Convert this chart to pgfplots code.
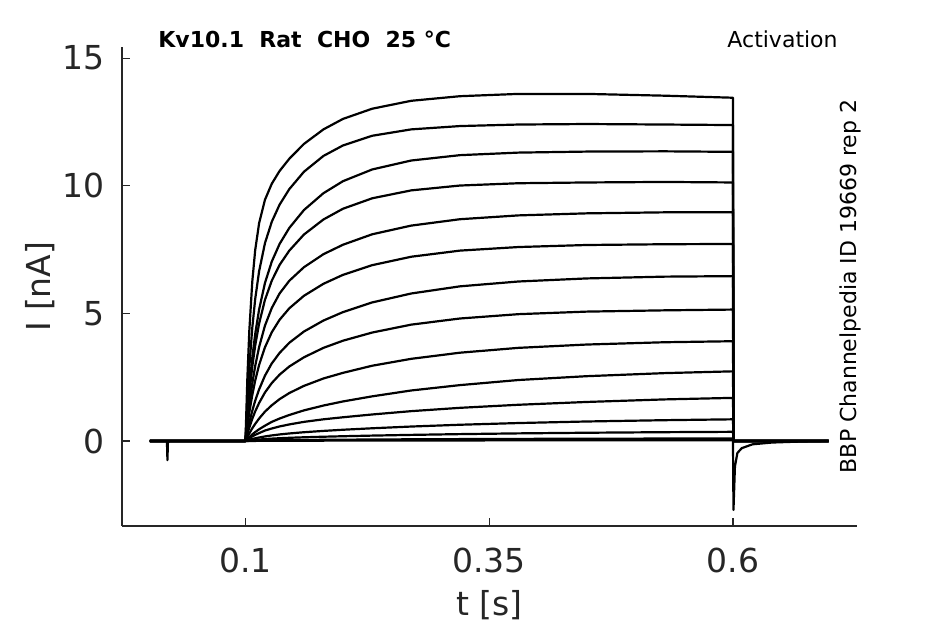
\documentclass[border=0pt]{standalone}
\usepackage{fontspec}
\setmainfont{DejaVu Sans}
\usepackage{pgfplots}
\usepackage{pgfplotstable}
\pgfplotsset{compat=1.18}
\definecolor{txt}{HTML}{262626}
\definecolor{axc}{HTML}{262626}

\pgfplotstableread{
t a1 a2 a3 a4 a5 a6 a7 a8 a9 a10 a11 a12 a13 a14 a15
0.002 0 0 0 0 0 0 0 0 0 0 0 0 0 0 0
0.100 0 0 0 0 0 0 0 0 0 0 0 0 0 0 0
0.102 2.50 1.62 1.13 1.01 0.75 0.60 0.38 0.28 0.16 0.08 0.06 0.024 0.010 0.003 0.001
0.104 4.34 2.92 2.09 1.87 1.41 1.13 0.73 0.53 0.30 0.15 0.11 0.047 0.020 0.005 0.002
0.107 6.24 4.43 3.26 2.91 2.25 1.80 1.18 0.87 0.50 0.26 0.18 0.077 0.033 0.009 0.003
0.110 7.48 5.56 4.19 3.74 2.94 2.37 1.58 1.16 0.67 0.35 0.24 0.105 0.044 0.012 0.004
0.114 8.53 6.65 5.15 4.60 3.68 2.98 2.02 1.49 0.88 0.46 0.31 0.138 0.058 0.016 0.005
0.120 9.45 7.75 6.19 5.53 4.52 3.67 2.56 1.90 1.15 0.60 0.41 0.179 0.076 0.021 0.006
0.127 10.08 8.59 7.03 6.28 5.21 4.26 3.04 2.27 1.40 0.75 0.49 0.219 0.093 0.026 0.008
0.135 10.58 9.26 7.72 6.90 5.78 4.75 3.45 2.60 1.64 0.88 0.57 0.257 0.109 0.030 0.009
0.145 11.06 9.87 8.35 7.46 6.28 5.20 3.85 2.92 1.88 1.02 0.65 0.296 0.126 0.035 0.011
0.160 11.64 10.55 9.05 8.09 6.81 5.69 4.29 3.28 2.16 1.20 0.75 0.344 0.146 0.040 0.012
0.180 12.21 11.17 9.71 8.68 7.32 6.16 4.72 3.65 2.45 1.39 0.85 0.396 0.168 0.047 0.014
0.200 12.62 11.58 10.18 9.10 7.69 6.51 5.05 3.93 2.67 1.55 0.93 0.441 0.187 0.052 0.016
0.230 13.02 11.96 10.64 9.51 8.10 6.89 5.43 4.25 2.95 1.75 1.04 0.499 0.212 0.059 0.018
0.270 13.33 12.21 10.99 9.82 8.44 7.22 5.78 4.56 3.22 1.98 1.17 0.567 0.240 0.067 0.020
0.320 13.51 12.34 11.20 10.01 8.69 7.46 6.06 4.80 3.46 2.19 1.30 0.637 0.270 0.075 0.023
0.380 13.60 12.40 11.30 10.10 8.84 7.60 6.25 4.97 3.65 2.39 1.42 0.704 0.299 0.083 0.025
0.450 13.60 12.42 11.34 10.13 8.92 7.68 6.37 5.07 3.78 2.54 1.53 0.765 0.324 0.090 0.027
0.530 13.53 12.40 11.35 10.15 8.96 7.71 6.44 5.12 3.87 2.66 1.63 0.816 0.346 0.096 0.029
0.600 13.45 12.38 11.33 10.13 8.96 7.72 6.46 5.15 3.91 2.73 1.69 0.850 0.360 0.100 0.030
0.6005 0 0 0 0 0 0 0 0 0 0 0 0 0 0 0
0.698 0 0 0 0 0 0 0 0 0 0 0 0 0 0 0
}\datatab

\begin{document}
\begin{tikzpicture}
\path[use as bounding box] (0,0) rectangle (472.5pt,312pt);
\begin{axis}[
  at={(61pt,49pt)}, anchor=south west, scale only axis,
  width=367.5pt, height=239.65pt,
  xmin=-0.0266, xmax=0.7272, ymin=-3.33, ymax=15.45,
  axis x line*=bottom, axis y line*=left,
  x axis line style={-}, y axis line style={-},
  axis line style={draw=axc, line width=0.6pt},
  tick align=inside, major tick length=3.75pt,
  tick style={draw=axc, line width=0.6pt},
  xtick={0.1,0.35,0.6}, xticklabels={0.1,0.35,0.6},
  ytick={0,5,10,15}, yticklabels={0,5,10,15},
  minor tick num=0,
  xticklabel style={font=\fontsize{16.5}{19}\selectfont, text=txt, inner sep=0pt, anchor=north, yshift=-11pt},
  yticklabel style={font=\fontsize{16.5}{19}\selectfont, text=txt, inner sep=0pt, anchor=east, xshift=-8.5pt},
  xlabel={t [s]}, ylabel={I [nA]},
  xlabel style={font=\fontsize{16.5}{19}\selectfont, text=txt, inner sep=0pt, at={(axis description cs:0.5,-0.1648)}, anchor=center},
  ylabel style={font=\fontsize{16.5}{19}\selectfont, text=txt, inner sep=0pt, at={(axis description cs:-0.1116,0.5)}, anchor=center},
  trace/.style={black, solid, no markers, line width=1.1pt, line join=round},
]
\pgfplotsinvokeforeach{a15,a14,a13,a12,a11,a10,a9,a8,a7,a6,a5,a4,a3,a2,a1}{
  \addplot[trace] table[x=t, y=#1] {\datatab};
}
% capacitive artefact of the prepulse
\addplot[trace] coordinates {(0.0195,0) (0.0200,-0.75) (0.0205,-0.05) (0.0220,0)};
% tail current spike
\addplot[trace] coordinates {(0.6000,0) (0.6005,-2.70) (0.6020,-1.00) (0.6045,-0.47) (0.6090,-0.28) (0.6200,-0.13) (0.6400,-0.06) (0.6700,-0.02) (0.6980,0)};
\end{axis}
\node[anchor=base west, inner sep=0pt, font=\bfseries\fontsize{11}{13}\selectfont] at (79pt,288.35pt) {Kv10.1\ \ Rat\ \ CHO\ \ 25 °C};
\node[anchor=base east, inner sep=0pt, font=\fontsize{11}{13}\selectfont] at (419pt,288.35pt) {Activation};
\node[anchor=base, rotate=90, inner sep=0pt, font=\fontsize{11}{13}\selectfont] at (428.3pt,168.75pt) {BBP Channelpedia ID 19669 rep 2};
\end{tikzpicture}
\end{document}
